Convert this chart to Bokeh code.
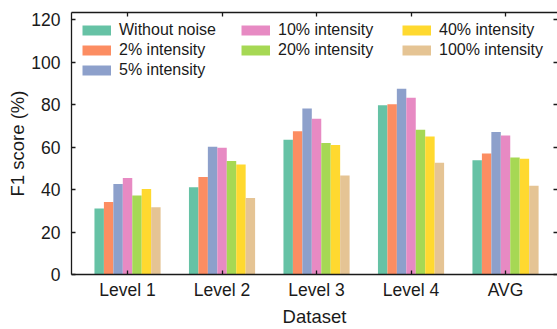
from bokeh.plotting import figure
from bokeh.models import (Range1d, LinearAxis, FixedTicker, Legend, LegendItem,
                          ColumnDataSource)
from bokeh.transform import dodge
from bokeh.embed import file_html
from bokeh.resources import INLINE

# F1 scores (%) per dataset level under increasing noise intensity
categories = ["Level 1", "Level 2", "Level 3", "Level 4", "AVG"]
series_labels = ["Without noise", "2% intensity", "5% intensity", "10% intensity",
                 "20% intensity", "40% intensity", "100% intensity"]
without_noise = [31.1, 41.1, 63.5, 79.8, 53.9]
intensity_2 = [34.2, 46.0, 67.5, 80.2, 57.0]
intensity_5 = [42.7, 60.2, 78.3, 87.5, 67.2]
intensity_10 = [45.5, 59.8, 73.4, 83.3, 65.5]
intensity_20 = [37.2, 53.5, 62.0, 68.2, 55.2]
intensity_40 = [40.3, 51.8, 61.0, 65.1, 54.6]
intensity_100 = [31.7, 36.1, 46.7, 52.7, 41.8]
y_ticks = [0, 20, 40, 60, 80, 100, 120]

series_values = [without_noise, intensity_2, intensity_5, intensity_10,
                 intensity_20, intensity_40, intensity_100]
colors = ["#66c2a5", "#fc8d62", "#8da0cb", "#e78ac3", "#a6d854", "#ffd92f", "#e5c494"]

FONT = "Liberation Sans"
INK = "#1a1a1a"
BAR_W = 0.1

data = {"idx": list(range(len(categories)))}
for k, vals in enumerate(series_values):
    data[f"s{k}"] = vals
source = ColumnDataSource(data)

p = figure(width=557, height=329, output_backend="svg", toolbar_location=None,
           x_range=Range1d(-0.593, 4.55), y_range=Range1d(0, 123.5),
           min_border_left=71, min_border_right=0, min_border_top=12,
           min_border_bottom=54)
p.outline_line_color = None
p.xgrid.visible = False
p.ygrid.visible = False
p.background_fill_color = "white"
p.border_fill_color = "white"

n = len(series_values)
for k in range(n):
    p.vbar(x=dodge("idx", (k - (n - 1) / 2) * BAR_W, range=p.x_range),
           top=f"s{k}", width=BAR_W, fill_color=colors[k], line_color=None,
           source=source)


def style_axis(ax, labels=True):
    ax.axis_line_color = INK
    ax.axis_line_width = 1.3
    ax.major_tick_in = 4
    ax.major_tick_out = 0
    ax.major_tick_line_color = INK
    ax.major_tick_line_width = 1.3
    ax.minor_tick_line_color = None
    ax.major_label_text_font = FONT
    ax.major_label_text_color = INK
    ax.axis_label_text_font = FONT
    ax.axis_label_text_font_style = "normal"
    ax.axis_label_text_color = INK
    ax.axis_label_text_font_size = "18.5px"
    if labels:
        ax.major_label_text_font_size = "17.5px"
        ax.major_label_standoff = 8
    else:
        ax.major_label_text_font_size = "0px"
        ax.major_label_standoff = 0


cat_ticker = FixedTicker(ticks=list(range(len(categories))))
val_ticker = FixedTicker(ticks=y_ticks)

xa = p.xaxis[0]
xa.ticker = cat_ticker
xa.major_label_overrides = {i: c for i, c in enumerate(categories)}
xa.axis_label = "Dataset"
style_axis(xa)
xa.major_label_standoff = 5
xa.axis_label_standoff = 3

ya = p.yaxis[0]
ya.ticker = val_ticker
ya.axis_label = "F1 score (%)"
style_axis(ya)
ya.major_label_standoff = 11
ya.axis_label_standoff = 0

top_ax = LinearAxis(ticker=FixedTicker(ticks=list(range(len(categories)))))
style_axis(top_ax, labels=False)
top_ax.major_label_overrides = {i: "" for i in range(len(categories))}
p.add_layout(top_ax, "above")

right_ax = LinearAxis(ticker=FixedTicker(ticks=y_ticks))
style_axis(right_ax, labels=False)
right_ax.axis_line_color = None
right_ax.major_label_overrides = {t: "" for t in y_ticks}
p.add_layout(right_ax, "right")

# legend swatches: thick horizontal strokes centred on each label row,
# backed by off-screen line renderers
swatches = [p.line(x=[-9, -8], y=[-50, -50], line_color=c, line_width=10)
            for c in colors]
columns = [[0, 1, 2], [3, 4], [5, 6]]
col_x = [11, 170, 331]
for cols, lx in zip(columns, col_x):
    rows = len(cols)
    leg = Legend(items=[LegendItem(label=series_labels[i], renderers=[swatches[i]])
                        for i in cols],
                 location=(lx, 254 - 20 * rows),
                 glyph_width=29, glyph_height=20, label_height=20, spacing=0,
                 padding=0, margin=0, label_standoff=8,
                 border_line_color=None, background_fill_alpha=0,
                 label_text_font=FONT, label_text_font_size="16px",
                 label_text_color=INK)
    p.add_layout(leg)

open("out.html", "w").write(file_html(p, INLINE))
